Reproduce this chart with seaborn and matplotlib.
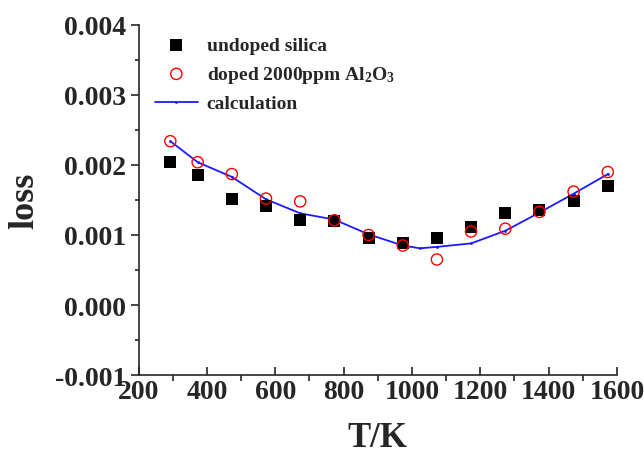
#!/usr/bin/env python

import pandas as pd
import seaborn as sns
import matplotlib
from matplotlib import pyplot as plt
from matplotlib.ticker import MultipleLocator

matplotlib.use("Agg")

# temperatures (K)
temps = [293, 373, 473, 573, 673, 773, 873, 973, 1073, 1173, 1273, 1373, 1473, 1573]

undoped = [0.00204, 0.00185, 0.00151, 0.00142, 0.00121, 0.00120, 0.00096,
           0.00089, 0.00095, 0.00112, 0.00132, 0.00135, 0.00148, 0.00170]
doped = [0.00234, 0.00204, 0.00187, 0.00152, 0.00148, 0.00121, 0.00100,
         0.00085, 0.00065, 0.00105, 0.00109, 0.00133, 0.00162, 0.00190]

calc_temps = [293, 373, 473, 573, 673, 773, 873, 973, 1023, 1073, 1173, 1273,
              1373, 1473, 1573]
calc = [0.00234, 0.00204, 0.00183, 0.00151, 0.00131, 0.00122, 0.00101,
        0.00085, 0.00081, 0.00083, 0.00088, 0.00106, 0.00132, 0.00159, 0.00187]


def main():
    sns.set_style("ticks")
    plt.rcParams["font.family"] = ["Liberation Serif", "DejaVu Serif"]
    plt.rcParams["font.weight"] = "bold"
    plt.rcParams["mathtext.fontset"] = "custom"
    plt.rcParams["mathtext.rm"] = "Liberation Serif:bold"
    plt.rcParams["mathtext.it"] = "Liberation Serif:bold"
    plt.rcParams["mathtext.bf"] = "Liberation Serif:bold"

    df_u = pd.DataFrame({"T": temps, "loss": undoped})
    df_d = pd.DataFrame({"T": temps, "loss": doped})
    df_c = pd.DataFrame({"T": calc_temps, "loss": calc})

    fig = plt.figure(figsize=(6.44, 4.60), dpi=100)
    ax = fig.add_axes([0.2151, 0.1826, 0.7430, 0.7609])

    sns.lineplot(data=df_c, x="T", y="loss", ax=ax, color="#1a1aff",
                 linewidth=1.3, marker="o", markersize=2,
                 markeredgewidth=0, label="calculation", zorder=2)
    sns.scatterplot(data=df_u, x="T", y="loss", ax=ax, marker="s", s=75,
                    color="black", edgecolor="black", linewidth=0,
                    label="undoped silica", zorder=3)
    sns.scatterplot(data=df_d, x="T", y="loss", ax=ax, marker="o", s=65,
                    facecolor="none", edgecolor="red", linewidth=1.0,
                    label="doped 2000ppm Al$_2$O$_3$", zorder=4)

    ax.set_xlim(200, 1600)
    ax.set_ylim(-0.001, 0.004)
    ax.xaxis.set_major_locator(MultipleLocator(200))
    ax.xaxis.set_minor_locator(MultipleLocator(100))
    ax.yaxis.set_major_locator(MultipleLocator(0.001))
    ax.yaxis.set_minor_locator(MultipleLocator(0.0005))
    ax.yaxis.set_major_formatter(matplotlib.ticker.FormatStrFormatter("%.3f"))

    ax.tick_params(axis="x", which="major", direction="in", length=6,
                   width=1.2, labelsize=20, pad=3)
    ax.tick_params(axis="x", which="minor", direction="out", length=4,
                   width=1.2)
    ax.tick_params(axis="y", which="major", direction="out", length=6,
                   width=1.2, labelsize=20, pad=3)
    ax.tick_params(axis="y", which="minor", direction="out", length=3,
                   width=1.2)
    for lab in ax.get_xticklabels() + ax.get_yticklabels():
        lab.set_fontweight("bold")

    sns.despine(ax=ax)
    for side in ("left", "bottom"):
        ax.spines[side].set_linewidth(1.2)

    ax.set_xlabel("T/K", fontsize=25, fontweight="bold", labelpad=12)
    ax.set_ylabel("loss", fontsize=26, fontweight="bold", labelpad=10)

    handles, labels = ax.get_legend_handles_labels()
    order = [1, 2, 0]
    ax.legend([handles[i] for i in order], [labels[i] for i in order],
              loc="upper left", bbox_to_anchor=(0.01, 1.0), frameon=False,
              prop={"family": "Liberation Serif", "weight": "bold", "size": 14},
              handlelength=2.2, handletextpad=0.45, labelspacing=0.5,
              borderaxespad=0.2)

    fig.savefig("out.png", dpi=100)


if __name__ == "__main__":
    main()
